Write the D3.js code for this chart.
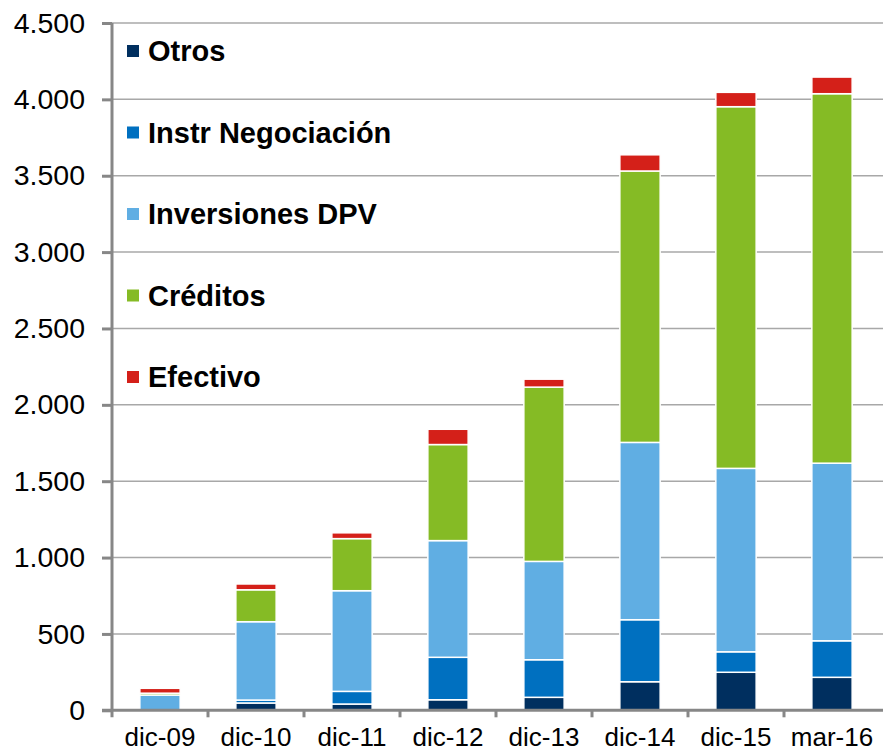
<!DOCTYPE html>
<html>
<head>
<meta charset="utf-8">
<script src="https://cdn.jsdelivr.net/npm/d3@7"></script>
<style>
  body { margin: 0; background: #fff; }
  text { font-family: "Liberation Sans", Arial, sans-serif; }
</style>
</head>
<body>
<div id="chart"></div>
<script>

// data
var periodos = ["dic-09", "dic-10", "dic-11", "dic-12", "dic-13", "dic-14", "dic-15", "mar-16"];
var series = ["Otros", "Instr Negociación", "Inversiones DPV", "Créditos", "Efectivo"];
var colores = ["#002f5f", "#0070c0", "#60aee3", "#85bb25", "#d42019"];

var otros       = [0, 48, 41, 69, 85, 187, 249, 216];
var instrNeg    = [0, 19, 83, 278, 246, 406, 134, 239];
var inversiones = [100, 513, 659, 764, 644, 1161, 1201, 1163];
var creditos    = [12, 209, 341, 629, 1141, 1777, 2368, 2419];
var efectivo    = [32, 38, 38, 100, 52, 106, 94, 109];

var ticksY = [0, 500, 1000, 1500, 2000, 2500, 3000, 3500, 4000, 4500];

var valores = [otros, instrNeg, inversiones, creditos, efectivo];

var width = 883, height = 753;
var margin = {top: 23, right: 3, bottom: 42, left: 112};

var tabla = periodos.map(function(p, i) {
  var row = {periodo: p};
  series.forEach(function(s, j) { row[s] = valores[j][i]; });
  return row;
});

var svg = d3.select("#chart").append("svg")
  .attr("width", width)
  .attr("height", height);

var x = d3.scaleBand()
  .domain(periodos)
  .range([margin.left, width - margin.right])
  .paddingInner(0.58)
  .paddingOuter(0.29);

var y = d3.scaleLinear()
  .domain([0, 4500])
  .range([height - margin.bottom - 0.7, margin.top]);

var color = d3.scaleOrdinal().domain(series).range(colores);

// grid lines
svg.append("g")
  .selectAll("line")
  .data(ticksY.slice(1))
  .enter().append("line")
  .attr("x1", margin.left)
  .attr("x2", width)
  .attr("y1", function(d) { return y(d); })
  .attr("y2", function(d) { return y(d); })
  .attr("stroke", "#a8a8a8")
  .attr("stroke-width", 1.5);

// stacked bars
var stack = d3.stack().keys(series)(tabla);

svg.append("g")
  .selectAll("g")
  .data(stack)
  .enter().append("g")
  .attr("fill", function(d) { return color(d.key); })
  .selectAll("rect")
  .data(function(d) { return d; })
  .enter().append("rect")
  .attr("x", function(d) { return x(d.data.periodo); })
  .attr("width", x.bandwidth())
  .attr("y", function(d) { return y(d[1]); })
  .attr("height", function(d) { return y(d[0]) - y(d[1]); })
  .attr("stroke", "#fff")
  .attr("stroke-width", 1.5);

// y axis
var yAxis = svg.append("g")
  .attr("transform", "translate(" + margin.left + ",0)")
  .call(d3.axisLeft(y)
    .tickValues(ticksY)
    .tickSize(10)
    .tickPadding(17)
    .tickFormat(function(d) { return d3.format(",")(d).replace(/,/g, "."); }));

yAxis.select(".domain")
  .attr("stroke", "#878787")
  .attr("stroke-width", 3)
  .attr("d", "M0," + y(4500) + "V" + (y(0) + 7));
yAxis.selectAll(".tick line")
  .attr("stroke", "#878787")
  .attr("stroke-width", 3);
yAxis.selectAll(".tick text")
  .attr("fill", "#000")
  .style("font-size", "28.5px");

// x axis
var xAxis = svg.append("g")
  .attr("transform", "translate(0," + y(0) + ")");

xAxis.append("line")
  .attr("x1", margin.left - 10)
  .attr("x2", width)
  .attr("stroke", "#878787")
  .attr("stroke-width", 3);

xAxis.selectAll(".sep")
  .data(periodos.slice(1))
  .enter().append("line")
  .attr("class", "sep")
  .attr("x1", function(d) { return x(d) - x.step() * x.paddingInner() / 2; })
  .attr("x2", function(d) { return x(d) - x.step() * x.paddingInner() / 2; })
  .attr("y1", 0)
  .attr("y2", 7)
  .attr("stroke", "#878787")
  .attr("stroke-width", 3);

xAxis.selectAll(".lbl")
  .data(periodos)
  .enter().append("text")
  .attr("class", "lbl")
  .attr("x", function(d) { return x(d) + x.bandwidth() / 2; })
  .attr("y", 36)
  .attr("text-anchor", "middle")
  .style("font-size", "26px")
  .attr("fill", "#000")
  .text(function(d) { return d; });

// legend
var leyenda = svg.append("g")
  .selectAll("g")
  .data(series)
  .enter().append("g")
  .attr("transform", function(d, i) { return "translate(127," + (51 + i * 81.5) + ")"; });

leyenda.append("rect")
  .attr("x", 0)
  .attr("y", -6)
  .attr("width", 12)
  .attr("height", 12)
  .attr("fill", function(d) { return color(d); });

leyenda.append("text")
  .attr("x", 21)
  .attr("y", 10)
  .style("font-size", "29px")
  .style("font-weight", "bold")
  .attr("fill", "#000")
  .text(function(d) { return d; });

</script>
</body>
</html>
